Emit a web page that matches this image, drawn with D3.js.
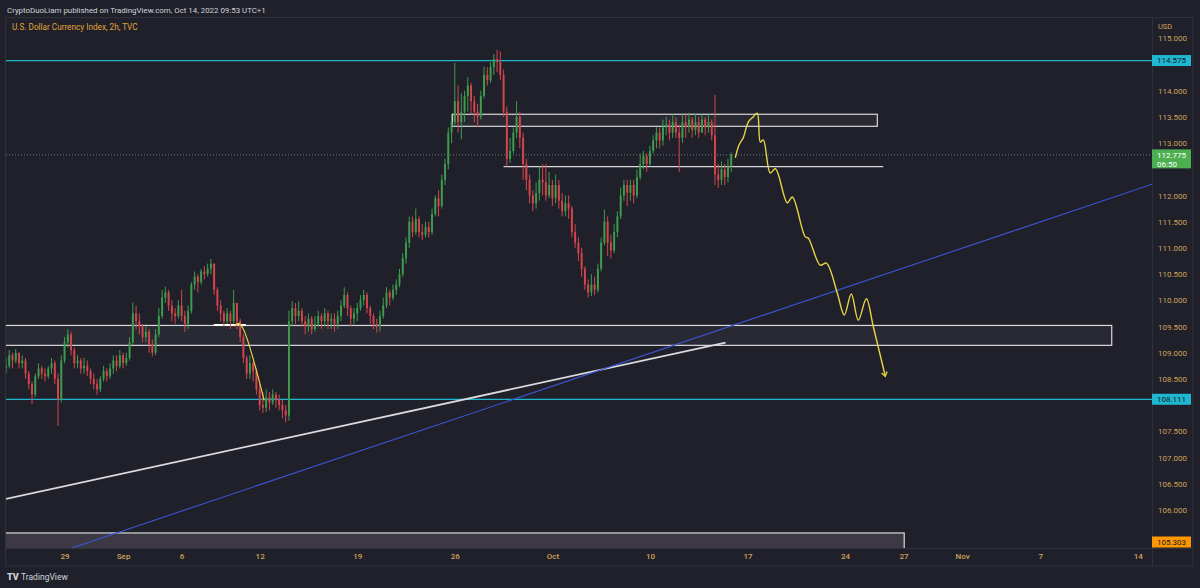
<!DOCTYPE html>
<html><head><meta charset="utf-8">
<script src="https://cdn.jsdelivr.net/npm/d3@7"></script>
<style>
html,body{margin:0;padding:0;background:#1f2029;}
svg{display:block;font-family:Roboto,"Liberation Sans",sans-serif;}
</style></head><body>
<svg id="c" width="1200" height="588"></svg>
<script>
// ---------------- DATA ----------------
const startDate = "2022-08-24T00:00";   // first 4h bar
const barsPerDay = 6;
const firstOpen = 108.7;
const closes = [108.75,108.95,108.85,109.0,108.8,108.85,108.6,108.4,108.2,108.55,108.7,108.6,108.55,108.7,108.8,108.5,108.1,108.85,109.2,109.35,
109.05,108.8,108.85,108.7,108.75,108.65,108.5,108.4,108.3,108.5,108.65,108.55,108.7,108.85,108.75,108.95,108.8,108.9,109.2,109.75,
109.6,109.5,109.3,109.4,109.15,109.0,109.35,109.7,110.05,110.15,109.9,109.75,109.7,109.9,109.7,109.55,109.8,110.3,110.45,110.35,
110.55,110.5,110.6,110.7,110.2,109.9,109.75,109.6,109.75,109.6,109.95,109.6,109.3,108.9,108.6,108.8,108.65,108.3,108.0,107.95,
108.15,108.05,108.2,108.1,108.0,107.9,107.8,109.6,109.85,109.7,109.8,109.6,109.5,109.65,109.45,109.55,109.7,109.6,109.75,109.6,
109.65,109.55,109.7,109.9,110.1,109.85,109.65,109.75,109.85,110.0,110.1,109.85,109.7,109.55,109.5,109.7,109.9,110.15,110.05,110.2,
110.3,110.5,110.8,111.1,111.5,111.3,111.55,111.3,111.25,111.4,111.3,111.65,111.95,111.8,112.3,112.6,113.2,113.4,113.8,113.4,
113.6,113.9,114.1,113.8,113.6,113.5,113.9,114.3,114.2,114.45,114.6,114.55,114.3,113.6,112.7,112.85,113.2,113.5,113.1,112.6,
112.3,112.0,111.85,112.05,112.3,112.25,112.0,112.2,111.95,112.2,111.9,111.7,111.85,111.75,111.3,111.1,110.9,110.6,110.3,110.15,
110.3,110.2,110.6,111.1,111.5,111.1,110.95,111.3,111.6,112.0,112.2,112.05,112.2,112.0,112.35,112.6,112.75,112.6,112.85,113.05,
113.2,113.05,113.3,113.35,113.2,113.4,113.2,113.1,113.4,113.3,113.45,113.25,113.4,113.2,113.45,113.3,113.4,113.15,112.4,112.3,
112.5,112.35,112.55,112.775];
const highs = [108.9,109.05,109.0,109.07,109.0,108.95,108.9,108.65,108.45,108.6,108.8,108.75,108.7,108.75,108.9,108.85,108.6,108.95,109.3,109.45,
109.4,109.1,108.95,108.9,108.9,108.85,108.7,108.6,108.5,108.55,108.75,108.7,108.8,108.95,108.95,109.05,109.0,109.0,109.3,109.96,
109.9,109.75,109.55,109.5,109.45,109.25,109.45,109.85,110.2,110.26,110.2,110.0,109.85,110.0,110.2,109.8,109.9,110.35,110.55,110.5,
110.6,110.65,110.7,110.79,110.7,110.25,110.0,109.8,109.85,109.8,110.2,109.95,109.65,109.35,108.95,108.95,108.85,108.7,108.4,108.25,
108.3,108.25,108.3,108.25,108.2,108.1,108.0,109.8,109.98,109.95,109.98,109.85,109.7,109.75,109.7,109.7,109.8,109.75,109.85,109.8,
109.75,109.75,109.8,110.0,110.25,110.15,109.9,109.85,109.95,110.1,110.2,110.15,109.9,109.75,109.65,109.8,110.05,110.25,110.2,110.3,
110.4,110.6,110.9,111.2,111.6,111.6,111.75,111.6,111.45,111.5,111.5,111.75,112.0,112.1,112.4,112.7,113.3,113.55,114.53,114.1,
113.95,114.0,114.26,114.15,113.9,113.75,114.0,114.46,114.45,114.55,114.7,114.78,114.75,114.4,113.7,113.1,113.3,113.8,113.6,113.2,
112.7,112.4,112.1,112.25,112.55,112.6,112.6,112.45,112.3,112.4,112.3,112.05,112.0,112.0,111.8,111.45,111.2,111.0,110.65,110.4,
110.5,110.45,110.7,111.2,111.73,111.6,111.25,111.45,111.7,112.15,112.3,112.3,112.3,112.3,112.5,112.8,112.85,112.8,112.95,113.15,
113.3,113.3,113.45,113.5,113.45,113.55,113.5,113.35,113.55,113.55,113.58,113.5,113.55,113.5,113.55,113.5,113.55,113.45,113.92,112.6,
112.65,112.6,112.7,112.82];
const lows = [108.6,108.7,108.7,108.8,108.7,108.7,108.5,108.3,108.02,108.15,108.5,108.5,108.45,108.5,108.6,108.4,107.6,108.05,108.8,109.1,
108.95,108.7,108.7,108.6,108.6,108.55,108.4,108.3,108.2,108.25,108.45,108.45,108.5,108.6,108.65,108.7,108.7,108.75,108.85,109.15,
109.45,109.35,109.2,109.2,109.0,108.93,108.95,109.3,109.65,109.95,109.8,109.6,109.55,109.65,109.6,109.4,109.45,109.75,110.2,110.15,
110.3,110.4,110.45,110.5,110.1,109.8,109.6,109.5,109.55,109.45,109.55,109.45,109.2,108.8,108.5,108.5,108.45,108.2,107.9,107.85,
107.87,107.9,108.0,107.95,107.9,107.75,107.67,107.7,109.5,109.55,109.6,109.5,109.35,109.4,109.35,109.4,109.5,109.45,109.5,109.45,
109.45,109.4,109.45,109.6,109.85,109.7,109.5,109.55,109.6,109.8,109.9,109.75,109.55,109.45,109.38,109.4,109.65,109.85,109.9,110.0,
110.1,110.25,110.45,110.7,111.0,111.2,111.25,111.2,111.15,111.2,111.2,111.25,111.6,111.6,111.75,112.2,112.5,113.0,113.35,113.2,
113.07,113.4,113.6,113.55,113.4,113.3,113.45,113.85,114.1,114.15,114.3,114.35,114.2,113.5,112.55,112.62,112.8,113.1,112.9,112.3,
112.1,111.85,111.7,111.75,111.9,112.0,111.9,111.95,111.8,111.85,111.75,111.6,111.6,111.55,111.2,111.0,110.75,110.45,110.2,110.05,
110.08,110.1,110.15,110.55,111.05,110.85,110.8,110.9,111.2,111.55,111.9,111.8,111.9,111.85,111.95,112.3,112.5,112.45,112.55,112.8,
112.9,112.9,112.95,113.15,113.05,113.1,113.1,112.45,113.0,113.1,113.2,113.1,113.15,113.1,113.2,113.15,113.2,113.05,112.2,112.15,
112.2,112.2,112.25,112.45];

const priceTicks = [115.0,114.5,114.0,113.5,113.0,112.5,112.0,111.5,111.0,110.5,110.0,109.5,109.0,108.5,108.0,107.5,107.0,106.5,106.0,105.5];
const timeTickDates = ["2022-08-29","2022-09-01","2022-09-06","2022-09-12","2022-09-19","2022-09-26","2022-10-03","2022-10-10","2022-10-17","2022-10-24","2022-10-27","2022-11-01","2022-11-07","2022-11-14"];
const timeTickLabels = ["29","Sep","6","12","19","26","Oct","10","17","24","27","Nov","7","14"];

const levelLines = [114.575, 108.111];
const lastPrice = 112.775;
const lastPriceTimer = "06:50";
const lowMarker = 105.303;

// zones: [from, to, priceTop, priceBottom]
const zoneTop = ["2022-09-23T21:00", "2022-10-25T15:40", 113.55, 113.32];
const zoneMain = ["2022-08-23T00:00", "2022-11-10T16:00", 109.52, 109.14];
const zoneLow = ["2022-08-23T00:00", "2022-10-27T00:45", 105.56, 104.9];
const supportLine = ["2022-09-28T12:00", "2022-10-25T23:00", 112.55];
const zoneTopMark = ["2022-09-07T15:30", "2022-09-09T07:00", 109.53];

const whiteTrend = [["2022-08-24T00:00", 106.21], ["2022-10-13T21:00", 109.19]];
const blueTrend = [["2022-10-13T14:40", 109.44], ["2022-11-10T01:40", 111.88]];

const sepProjection = [["2022-09-08T16:30",109.51],["2022-09-08T21:20",109.56],["2022-09-09T02:50",109.48],["2022-09-12T05:30",108.09]];
const projection = [["2022-10-14T09:00",112.72],["2022-10-14T12:45",112.93],["2022-10-14T15:30",113.02],["2022-10-14T18:45",113.10],
["2022-10-17T01:00",113.40],["2022-10-17T07:00",113.50],["2022-10-17T12:00",113.57],["2022-10-17T15:50",113.02],["2022-10-17T19:30",113.06],
["2022-10-18T04:00",112.43],["2022-10-18T10:20",112.51],["2022-10-19T01:00",111.86],["2022-10-19T07:10",111.97],
["2022-10-19T23:00",111.21],["2022-10-20T02:40",111.19],["2022-10-20T17:30",110.67],["2022-10-21T01:00",110.71],
["2022-10-21T14:25",110.14],["2022-10-21T23:00",109.72],["2022-10-24T07:40",110.12],["2022-10-24T16:20",109.62],
["2022-10-25T02:10",110.03],["2022-10-25T10:50",109.49],["2022-10-26T01:30",108.55]];

// ---------------- HELPERS ----------------
// trading-day index (weekends skipped) relative to 2022-08-29
function tIdx(s) {
  const full = s.length <= 10 ? s + "T00:00" : s;
  const t = Date.parse(full + ":00Z");
  const base = Date.UTC(2022, 7, 29);
  const dd = (t - base) / 864e5;
  const d = Math.floor(dd), frac = dd - d;
  let n = 0;
  if (d >= 0) { for (let k = 0; k < d; k++) { const w = new Date(base + k * 864e5).getUTCDay(); if (w !== 0 && w !== 6) n++; } }
  else { for (let k = -1; k >= d; k--) { const w = new Date(base + k * 864e5).getUTCDay(); if (w !== 0 && w !== 6) n--; } }
  const w = new Date(base + d * 864e5).getUTCDay();
  return n + ((w === 0 || w === 6) ? 0 : frac);
}

// ---------------- LAYOUT ----------------
const W = 1200, H = 588;
const P = {left: 6, right: 1152, top: 18, bottom: 548};
const axisRight = 1193, frameBottom = 566;
const C = {
  bg: "#1f2029", frame: "#2e313c", text: "#d0a35e", head: "#d1d4dc", title: "#e2a33c",
  up: "#3e9c4d", down: "#d4454d", cyan: "#1fb6cf", white: "#d9d9de", blue: "#3c55d4",
  yellow: "#e6d444", green: "#4caf50", orange: "#ff9800"
};

const x = d3.scaleLinear().domain([-3.0, 55.73]).range([P.left, P.right]);
const y = d3.scaleLinear().domain([105.273, 115.387]).range([P.bottom, P.top]);

const svg = d3.select("#c");
svg.append("rect").attr("width", W).attr("height", H).attr("fill", C.bg);

const defs = svg.append("defs");
defs.append("clipPath").attr("id", "plot").append("rect")
  .attr("x", P.left).attr("y", P.top).attr("width", P.right - P.left).attr("height", P.bottom - P.top);

// header
svg.append("text").attr("x", 7).attr("y", 13).attr("fill", C.head).attr("font-size", 7.9)
  .text("CryptoDuoLiam published on TradingView.com, Oct 14, 2022 09:53 UTC+1");

// frame
svg.append("rect").attr("x", 5.5).attr("y", 17.5).attr("width", axisRight - 5.5).attr("height", frameBottom - 17.5)
  .attr("fill", "none").attr("stroke", C.frame);
svg.append("line").attr("x1", P.right + 0.5).attr("x2", P.right + 0.5).attr("y1", 17.5).attr("y2", frameBottom)
  .attr("stroke", C.frame);
svg.append("line").attr("x1", 5.5).attr("x2", axisRight).attr("y1", P.bottom + 0.5).attr("y2", P.bottom + 0.5)
  .attr("stroke", C.frame);

const plot = svg.append("g").attr("clip-path", "url(#plot)");

// zones
function zone(z, fill, stroke, sw) {
  const x0 = x(tIdx(z[0])), x1 = x(tIdx(z[1]));
  plot.append("rect").attr("x", x0).attr("y", y(z[2])).attr("width", x1 - x0).attr("height", y(z[3]) - y(z[2]))
    .attr("fill", fill).attr("stroke", stroke).attr("stroke-width", sw);
}
zone(zoneLow, "#3d3944", "#d8d8dc", 1.2);
zone(zoneMain, "rgba(255,255,255,0.045)", "#d8d8dc", 1.2);
zone(zoneTop, "rgba(255,255,255,0.045)", "#d8d8dc", 1.2);

plot.append("line").attr("x1", x(tIdx(supportLine[0]))).attr("x2", x(tIdx(supportLine[1])))
  .attr("y1", y(supportLine[2])).attr("y2", y(supportLine[2])).attr("stroke", "#d8d8dc").attr("stroke-width", 1.3);
plot.append("line").attr("x1", x(tIdx(zoneTopMark[0]))).attr("x2", x(tIdx(zoneTopMark[1])))
  .attr("y1", y(zoneTopMark[2])).attr("y2", y(zoneTopMark[2])).attr("stroke", "#ffffff").attr("stroke-width", 2);

// level lines
levelLines.forEach(v => {
  plot.append("line").attr("x1", P.left).attr("x2", P.right).attr("y1", y(v)).attr("y2", y(v))
    .attr("stroke", C.cyan).attr("stroke-width", 1.3);
});
// last price dotted
plot.append("line").attr("x1", P.left).attr("x2", P.right).attr("y1", y(lastPrice)).attr("y2", y(lastPrice))
  .attr("stroke", "#8a8d96").attr("stroke-width", 0.8).attr("stroke-dasharray", "1,2");

// trend lines
plot.append("line")
  .attr("x1", x(tIdx(whiteTrend[0][0]))).attr("y1", y(whiteTrend[0][1]))
  .attr("x2", x(tIdx(whiteTrend[1][0]))).attr("y2", y(whiteTrend[1][1]))
  .attr("stroke", C.white).attr("stroke-width", 1.8);
{
  const a = [tIdx(blueTrend[0][0]), blueTrend[0][1]], b = [tIdx(blueTrend[1][0]), blueTrend[1][1]];
  const slope = (b[1] - a[1]) / (b[0] - a[0]);
  const d0 = x.domain()[0] - 1, d1 = x.domain()[1] + 1;
  plot.append("line").attr("x1", x(d0)).attr("y1", y(a[1] + slope * (d0 - a[0])))
    .attr("x2", x(d1)).attr("y2", y(a[1] + slope * (d1 - a[0])))
    .attr("stroke", C.blue).attr("stroke-width", 1.1);
}

// candles
const bars = closes.map((c, i) => ({
  t: tIdx(startDate) + i / barsPerDay,
  o: i === 0 ? firstOpen : closes[i - 1], c, h: highs[i], l: lows[i]
}));
const bw = (x(1 / barsPerDay) - x(0)) * 0.6;
const cg = plot.append("g");
cg.selectAll("line").data(bars).join("line")
  .attr("x1", d => x(d.t)).attr("x2", d => x(d.t))
  .attr("y1", d => y(d.h)).attr("y2", d => y(d.l))
  .attr("stroke", d => d.c >= d.o ? C.up : C.down).attr("stroke-width", 1);
cg.selectAll("rect").data(bars).join("rect")
  .attr("x", d => x(d.t) - bw / 2).attr("width", bw)
  .attr("y", d => y(Math.max(d.o, d.c)))
  .attr("height", d => Math.max(1, Math.abs(y(d.o) - y(d.c))))
  .attr("fill", d => d.c >= d.o ? C.up : C.down);

// projections
const curve = d3.line().x(d => x(tIdx(d[0]))).y(d => y(d[1])).curve(d3.curveCatmullRom.alpha(0.5));
plot.append("path").attr("d", curve(sepProjection)).attr("fill", "none").attr("stroke", C.yellow).attr("stroke-width", 1.2);
plot.append("path").attr("d", curve(projection)).attr("fill", "none").attr("stroke", C.yellow).attr("stroke-width", 1.4);
{
  const n = projection.length;
  const tip = [x(tIdx(projection[n - 1][0])), y(projection[n - 1][1])];
  const prev = [x(tIdx(projection[n - 2][0])), y(projection[n - 2][1])];
  const ang = Math.atan2(tip[1] - prev[1], tip[0] - prev[0]);
  const L = 5, spread = 0.6;
  const p1 = [tip[0] - L * Math.cos(ang - spread), tip[1] - L * Math.sin(ang - spread)];
  const p2 = [tip[0] - L * Math.cos(ang + spread), tip[1] - L * Math.sin(ang + spread)];
  plot.append("path").attr("d", `M${p1}L${tip}L${p2}`).attr("fill", "none").attr("stroke", C.yellow).attr("stroke-width", 1.4);
}

// title
svg.append("text").attr("x", 12).attr("y", 30).attr("fill", C.title).attr("font-size", 8.2)
  .text("U.S. Dollar Currency Index, 2h, TVC");

// price axis boxes geometry
const f3 = d3.format(".3f");
const boxes = [
  {v: levelLines[0], fill: C.cyan, fg: "#131722", lines: [f3(levelLines[0])]},
  {v: levelLines[1], fill: C.cyan, fg: "#131722", lines: [f3(levelLines[1])]},
  {v: lastPrice, fill: C.green, fg: "#ffffff", lines: [f3(lastPrice), lastPriceTimer]},
  {v: lowMarker, fill: C.orange, fg: "#131722", lines: [f3(lowMarker)], clamp: true}
];
boxes.forEach(b => {
  const cy = b.clamp ? Math.min(y(b.v), P.bottom - 6) : y(b.v);
  b.h = b.lines.length > 1 ? 19 : 11;
  b.top = b.lines.length > 1 ? cy - 5.5 : cy - b.h / 2;
});

// price axis (labels hidden behind the price boxes are not drawn)
const visibleTicks = priceTicks.filter(v => boxes.every(b => y(v) < b.top - 4 || y(v) > b.top + b.h + 4));
const ya = svg.append("g").attr("transform", `translate(${P.right},0)`)
  .call(d3.axisRight(y).tickValues(visibleTicks).tickFormat(d3.format(".3f")).tickSize(0).tickPadding(6));
ya.select(".domain").remove();
ya.selectAll("text").attr("fill", C.text).attr("font-size", 8).attr("font-family", "Roboto,sans-serif");
svg.append("text").attr("x", 1158).attr("y", 29).attr("fill", C.text).attr("font-size", 7.5).text("USD");

// time axis
const xa = svg.append("g").attr("transform", `translate(0,${P.bottom})`)
  .call(d3.axisBottom(x).tickValues(timeTickDates.map(tIdx))
    .tickFormat((d, i) => timeTickLabels[i]).tickSize(0).tickPadding(5));
xa.select(".domain").remove();
xa.selectAll("text").attr("fill", C.text).attr("font-size", 8).attr("font-weight", 500).attr("font-family", "Roboto,sans-serif");

// price boxes
boxes.forEach(b => {
  svg.append("rect").attr("x", P.right).attr("y", b.top).attr("width", 39).attr("height", b.h).attr("fill", b.fill);
  b.lines.forEach((t, k) => {
    svg.append("text").attr("x", P.right + 5).attr("y", b.top + 8.3 + k * 9).attr("fill", b.fg)
      .attr("font-size", 8).attr("font-family", "Roboto,sans-serif").text(t);
  });
});

// TradingView logo
svg.append("text").attr("x", 7).attr("y", 580).attr("fill", C.head).attr("font-size", 9).attr("font-weight", 900).text("TV");
svg.append("text").attr("x", 21).attr("y", 580).attr("fill", C.head).attr("font-size", 8.5).text("TradingView");
</script>
</body></html>
